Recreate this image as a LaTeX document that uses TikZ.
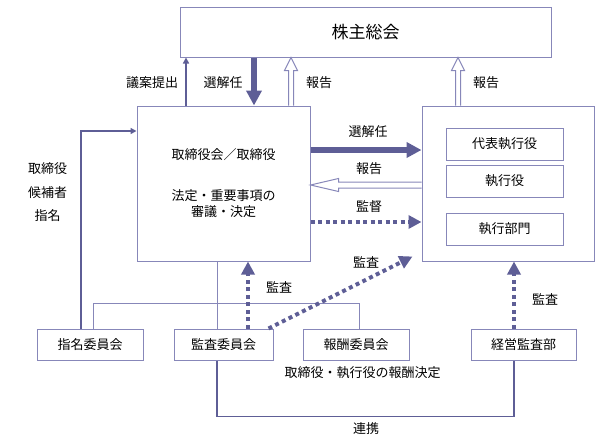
\documentclass[tikz,border=0pt]{standalone}
\usepackage{fontspec}
\usepackage{tikz}
\usetikzlibrary{arrows.meta,calc}
\newfontfamily\jp{Noto Sans CJK JP}
\definecolor{linecol}{RGB}{94,94,150}
\definecolor{boxcol}{RGB}{135,135,185}

\tikzset{
  box/.style={draw=boxcol, line width=1pt, fill=white, inner sep=0pt, align=center,
    font=\jp\fontsize{13}{16}\selectfont},
  lbl/.style={font=\jp\fontsize{13}{16}\selectfont, inner sep=0pt, align=center},
  boldarr/.style={draw=linecol, line width=5.5pt, -{Triangle[length=15pt,width=15pt]}},
  thinarr/.style={draw=linecol, line width=1.8pt, -{Triangle[length=6pt,width=6pt]}},
  dotarr/.style={draw=linecol, line width=4pt, dash pattern=on 4pt off 3.5pt,
    -{Triangle[length=13pt,width=13pt]}},
  hollow/.style={draw=boxcol, line width=1pt, fill=white, line join=miter},
  link/.style={draw=boxcol, line width=1pt},
  linkbold/.style={draw=linecol, line width=1.8pt},
}

% hollow arrows: #1 = tail, #2 = tip
\newcommand\hollowup[2]{%
  \draw[hollow] ($(#1)+(-2.5,0)$) -- ($(#2)+(-2.5,13)$) -- ($(#2)+(-6.5,13)$) -- (#2)
    -- ($(#2)+(6.5,13)$) -- ($(#2)+(2.5,13)$) -- ($(#1)+(2.5,0)$);}
\newcommand\hollowleft[2]{%
  \draw[hollow] ($(#1)+(0,-3)$) -- ($(#2)+(28,-3)$) -- ($(#2)+(28,-6.5)$) -- (#2)
    -- ($(#2)+(28,6.5)$) -- ($(#2)+(28,3)$) -- ($(#1)+(0,3)$);}

\begin{document}
\begin{tikzpicture}[x=1pt,y=-1pt]
\useasboundingbox (0,0) rectangle (602,447);

% main boxes
\node[box, minimum width=371pt, minimum height=50pt, font=\jp\fontsize{17}{20}\selectfont] (gsm) at (365.5,32) {株主総会};
\node[box, minimum width=173pt, minimum height=155pt] (board) at (223.5,183.5)
  {取締役会／取締役\\[25pt]法定・重要事項の\\審議・決定};
\node[box, minimum width=172pt, minimum height=155pt] (exec) at (508,183.5) {};
\node[box, minimum width=117pt, minimum height=32pt] (ceo) at (504.5,144) {代表執行役};
\node[box, minimum width=117pt, minimum height=32pt] (officer) at (504.5,181) {執行役};
\node[box, minimum width=117pt, minimum height=32pt] (dept) at (504.5,229) {執行部門};

% committees
\node[box, minimum width=106pt, minimum height=31pt] (nomc) at (90,344.5) {指名委員会};
\node[box, minimum width=99pt, minimum height=31pt] (audc) at (223.5,344.5) {監査委員会};
\node[box, minimum width=106pt, minimum height=31pt] (compc) at (356,344.5) {報酬委員会};
\node[box, minimum width=105pt, minimum height=31pt] (iad) at (523.5,344.5) {経営監査部};

% board <-> shareholders
\coordinate (prop) at ([xshift=-37.5pt]board.north);
\coordinate (elect) at ([xshift=30.5pt]board.north);
\coordinate (rep1) at ([xshift=67.5pt]board.north);
\coordinate (rep1t) at (rep1 |- gsm.south);
\coordinate (rep2) at ([xshift=-50pt]exec.north);
\coordinate (rep2t) at (rep2 |- gsm.south);
\draw[thinarr] (prop) -- (prop |- gsm.south);
\draw[boldarr] (elect |- gsm.south) -- (elect);
\hollowup{rep1}{rep1t}
\hollowup{rep2}{rep2t}
\node[lbl] (l1) at (152,83) {議案提出};
\node[lbl] (l2) at (223,83) {選解任};
\node[lbl] (l3) at (319,83) {報告};
\node[lbl] (l4) at (486,83) {報告};

% board <-> executives
\coordinate (sel) at ([yshift=33.5pt]board.east);
\coordinate (repb) at ([yshift=-1.5pt]board.east);
\coordinate (repe) at (repb -| exec.west);
\coordinate (sup) at ([yshift=-38.5pt]board.east);
\draw[boldarr] (sel) -- (sel -| exec.west);
\hollowleft{repe}{repb}
\draw[dotarr] (sup) -- (sup -| exec.west);
\node[lbl] (l5) at (368,132) {選解任};
\node[lbl] (l6) at (369,169) {報告};
\node[lbl] (l7) at (369,207) {監督};

% nomination
\draw[thinarr] ([xshift=-9pt]nomc.north) |- ([yshift=52.5pt]board.west);
\node[lbl] (l8) at (47.5,192.5) {取締役\\[7.5pt]候補者\\[7.5pt]指名};

% committees to board
\coordinate (bb) at ([xshift=-6.5pt]board.south);
\draw[link] (bb) -- (bb |- audc.north);
\draw[link] ([xshift=3pt]nomc.north) -- ++(0,-25) -| ([xshift=3pt]compc.north);

% audits
\coordinate (au) at ([xshift=24.5pt]audc.north);
\draw[dotarr] (au) -- (au |- board.south);
\draw[dotarr] ([xshift=-5pt]audc.north east) -- ([xshift=-9pt,yshift=5pt]exec.south west);
\coordinate (ia) at ([xshift=-9.5pt]iad.north);
\draw[dotarr] (ia) -- (ia |- exec.south);
\node[lbl] (l9) at (279,287) {監査};
\node[lbl] (l10) at (366,262) {監査};
\node[lbl] (l11) at (545,299) {監査};
\node[lbl] (l12) at (362.5,373) {取締役・執行役の報酬決定};

% cooperation
\draw[linkbold] ([xshift=-6.5pt]audc.south) -- ++(0,56) -| ([xshift=-9.5pt]iad.south);
\node[lbl] (l13) at (366,429) {連携};
\end{tikzpicture}
\end{document}
